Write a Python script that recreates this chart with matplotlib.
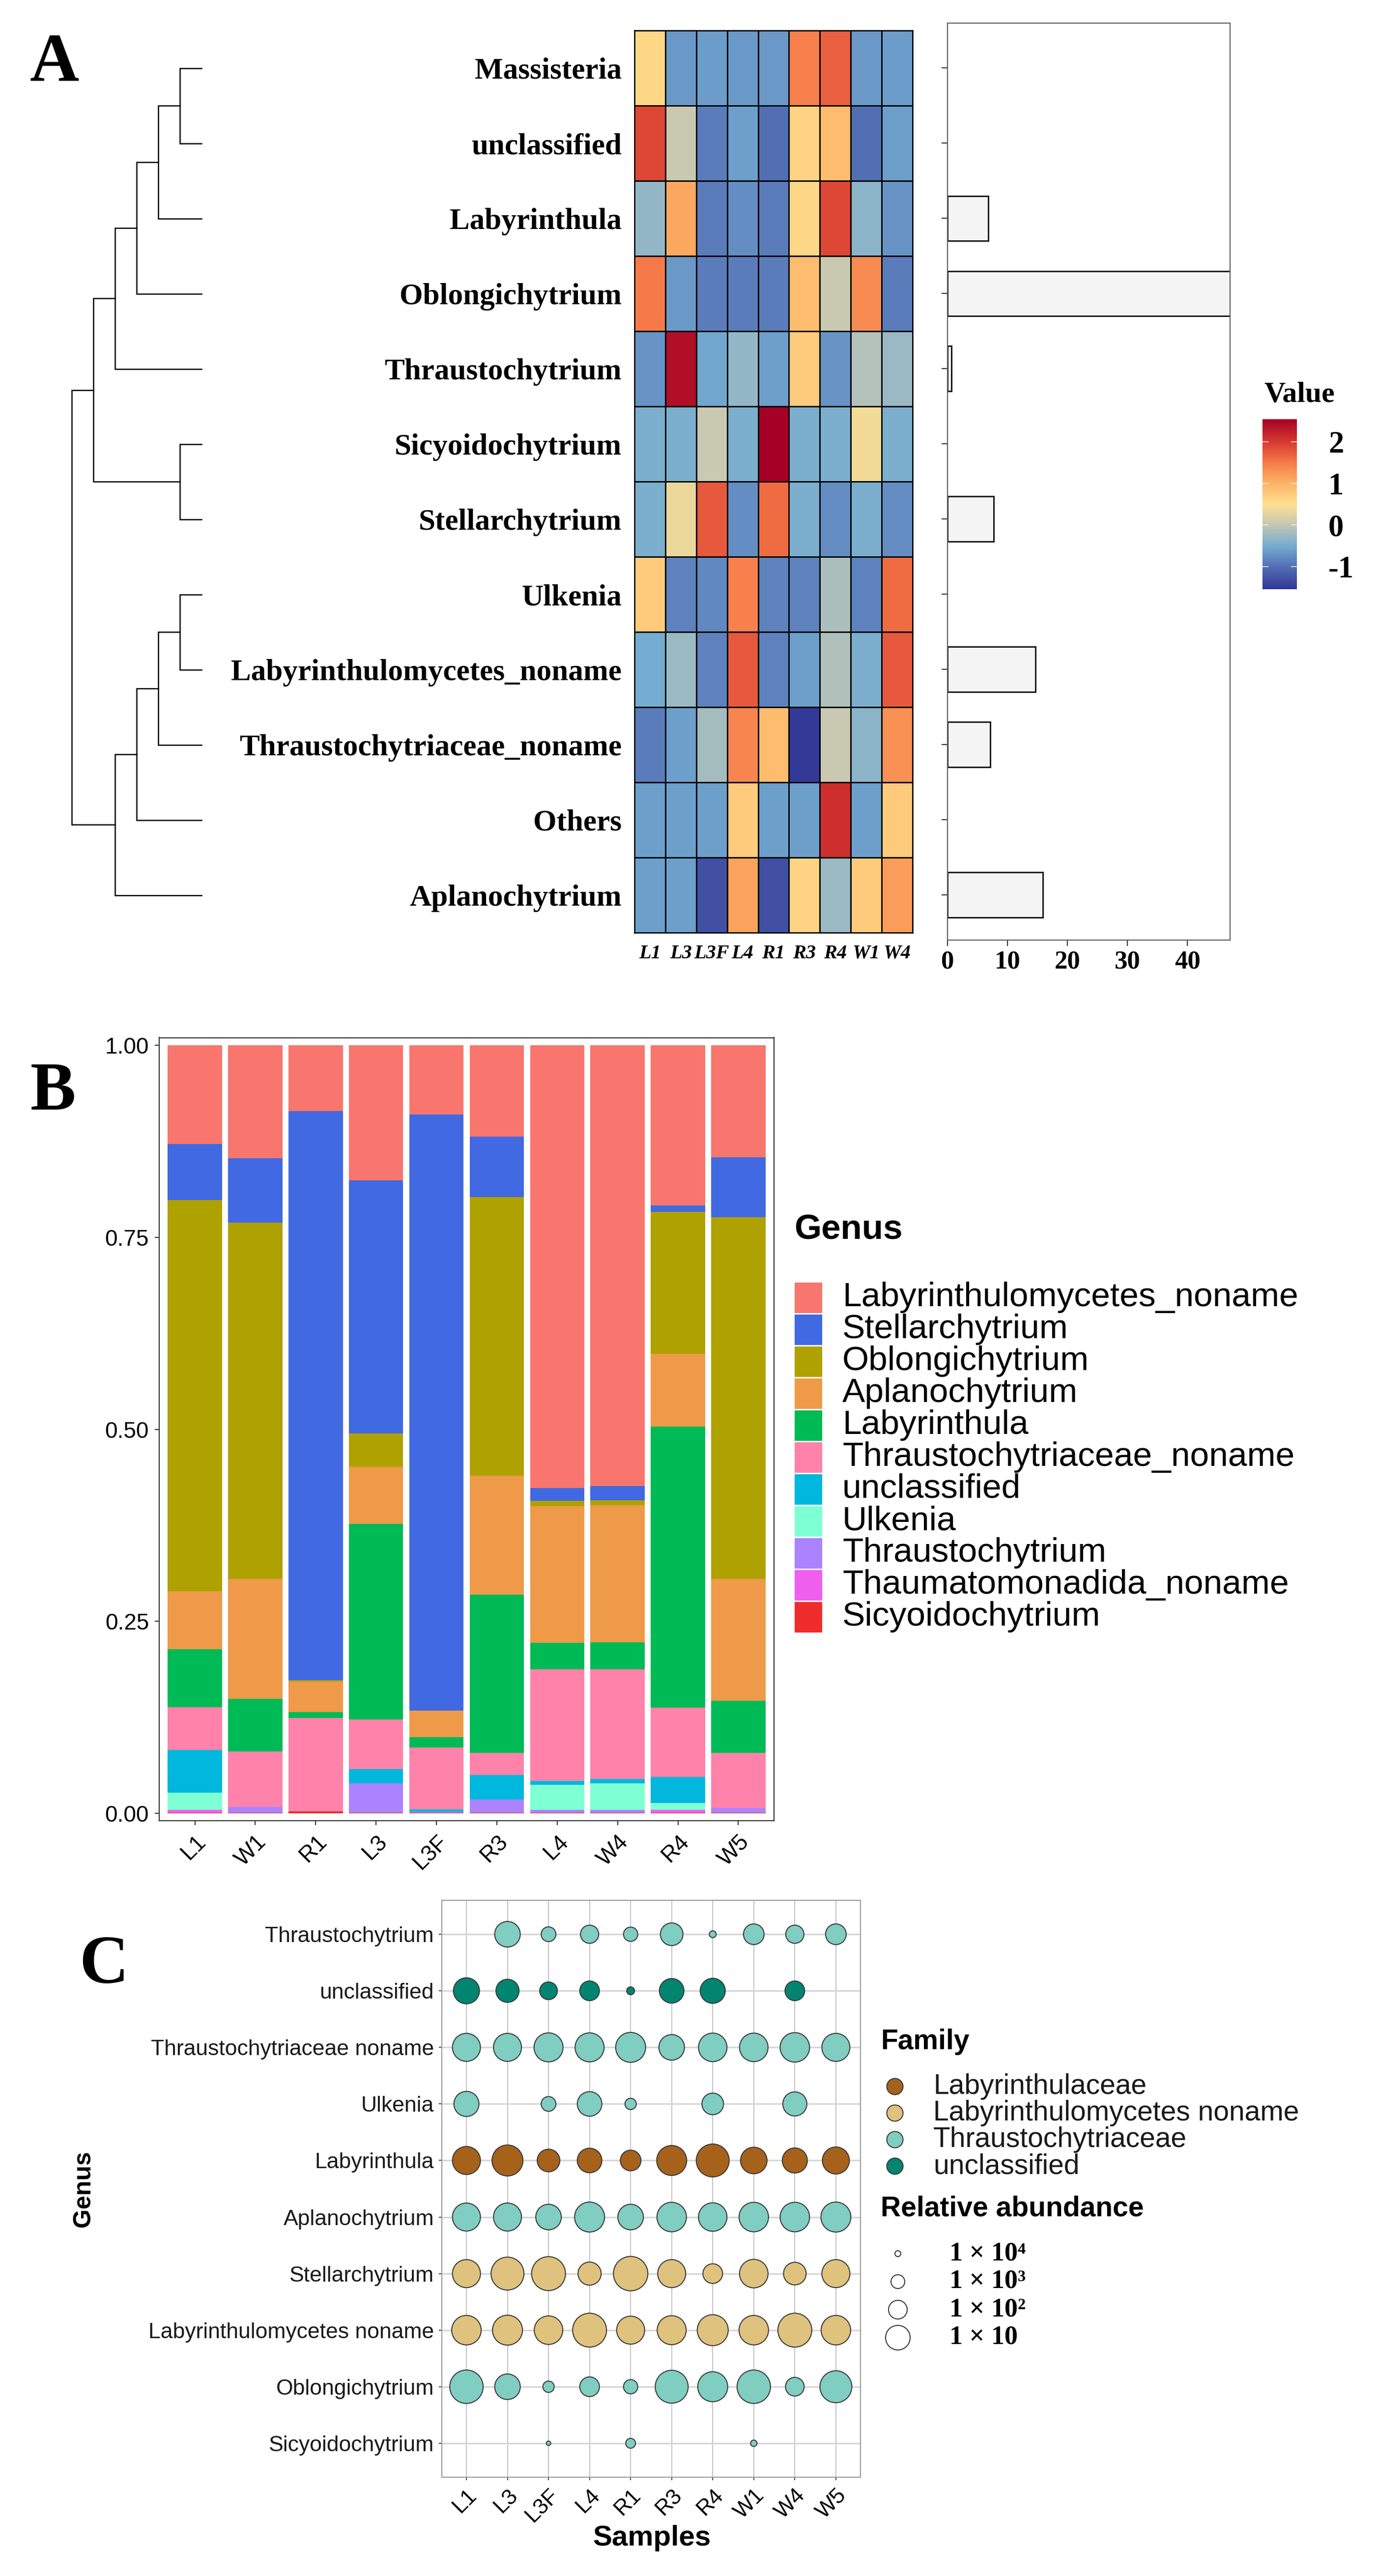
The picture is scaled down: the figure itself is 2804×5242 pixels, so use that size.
import numpy as np
import matplotlib
matplotlib.use('Agg')
import matplotlib.pyplot as plt
from matplotlib.colors import LinearSegmentedColormap, Normalize
from matplotlib.cm import ScalarMappable
from matplotlib.patches import Rectangle

W, H, DPI = 2804, 5242, 100
plt.rcParams['font.family'] = ['Liberation Sans', 'DejaVu Sans']
SERIF = ['Liberation Serif', 'DejaVu Serif']


def box(x0, y0, x1, y1):
    # pixel box, origin top-left -> figure fraction rect
    return [x0 / W, 1 - y1 / H, (x1 - x0) / W, (y1 - y0) / H]


def pt(px):
    return px * 72 / DPI


# ---------------- panel A data ----------------
heat_samples = ['L1', 'L3', 'L3F', 'L4', 'R1', 'R3', 'R4', 'W1', 'W4']
heat_rows = ['Massisteria', 'unclassified', 'Labyrinthula', 'Oblongichytrium',
             'Thraustochytrium', 'Sicyoidochytrium', 'Stellarchytrium', 'Ulkenia',
             'Labyrinthulomycetes_noname', 'Thraustochytriaceae_noname', 'Others',
             'Aplanochytrium']
heat_z = [
    [0.6, -0.65, -0.62, -0.65, -0.65, 1.45, 1.7, -0.65, -0.62],
    [1.9, 0.05, -0.9, -0.6, -1.0, 0.65, 0.9, -1.0, -0.6],
    [-0.3, 1.1, -0.9, -0.75, -0.9, 0.6, 1.9, -0.35, -0.7],
    [1.5, -0.65, -0.9, -0.9, -0.9, 0.9, 0.05, 1.35, -0.9],
    [-0.7, 2.4, -0.55, -0.3, -0.6, 0.75, -0.7, -0.1, -0.25],
    [-0.45, -0.45, 0.05, -0.45, 2.55, -0.45, -0.45, 0.4, -0.45],
    [-0.45, 0.35, 1.75, -0.75, 1.6, -0.45, -0.75, -0.45, -0.75],
    [0.75, -0.85, -0.8, 1.45, -0.85, -0.85, -0.15, -0.85, 1.6],
    [-0.5, -0.25, -0.85, 1.75, -0.85, -0.6, -0.12, -0.45, 1.75],
    [-0.9, -0.6, -0.2, 1.4, 0.9, -1.5, 0.05, -0.35, 1.3],
    [-0.6, -0.6, -0.6, 0.75, -0.6, -0.6, 2.1, -0.6, 0.75],
    [-0.6, -0.6, -1.3, 1.15, -1.3, 0.65, -0.25, 0.75, 1.2],
]
heat_bar = [0, 0, 6.8, 60, 0.65, 0, 7.7, 0, 14.7, 7.1, 0, 15.9]
# clustering of the rows: (merge level, left, right)
genus_tree = (6,
              (5,
               (4, (3, (2, (1, 'Massisteria', 'unclassified'), 'Labyrinthula'),
                    'Oblongichytrium'), 'Thraustochytrium'),
               (1, 'Sicyoidochytrium', 'Stellarchytrium')),
              (4, (3, (2, (1, 'Ulkenia', 'Labyrinthulomycetes_noname'),
                       'Thraustochytriaceae_noname'), 'Others'),
               'Aplanochytrium'))

# ---------------- panel B data ----------------
stack_samples = ['L1', 'W1', 'R1', 'L3', 'L3F', 'R3', 'L4', 'W4', 'R4', 'W5']
stack_genus = ['Labyrinthulomycetes_noname', 'Stellarchytrium', 'Oblongichytrium',
               'Aplanochytrium', 'Labyrinthula', 'Thraustochytriaceae_noname',
               'unclassified', 'Ulkenia', 'Thraustochytrium',
               'Thaumatomonadida_noname', 'Sicyoidochytrium']
stack_colors = ['#F8766D', '#4169E1', '#AFA100', '#EE9A49', '#00BA55', '#FF82AB',
                '#00B7DD', '#7FFFD4', '#AB82FF', '#EE5FEE', '#EE2C2C']
labyrinthulomycetes_noname = [.1284, .1469, .0857, .1757, .0901, .119, .5766, .5739, .2087, .146]
stellarchytrium = [.0732, .0841, .7408, .3297, .776, .0787, .0164, .0185, .008, .0781]
oblongichytrium = [.5091, .464, .0018, .0438, 0, .3627, .0071, .0065, .1852, .4709]
aplanochytrium = [.0752, .1557, .0399, .0738, .0344, .1547, .1777, .1782, .0944, .1586]
labyrinthula = [.0758, .0687, .0073, .2545, .0139, .2063, .0349, .0356, .366, .0678]
thraustochytriaceae_noname = [.0555, .0725, .1216, .065, .0801, .0285, .1449, .1423, .0901, .0716]
unclassified = [.0558, 0, 0, .0184, .0033, .0319, .0055, .0061, .0338, 0]
ulkenia = [.0222, 0, 0, 0, 0, 0, .0325, .0345, .0094, 0]
thraustochytrium = [0, .0071, 0, .0381, .0012, .0172, .0034, .0034, 0, .006]
thaumatomonadida_noname = [.0037, 0, 0, 0, 0, 0, 0, 0, .0034, 0]
sicyoidochytrium = [.001, .001, .0029, .001, .001, .001, .001, .001, .001, .001]
stack_values = [labyrinthulomycetes_noname, stellarchytrium, oblongichytrium,
                aplanochytrium, labyrinthula, thraustochytriaceae_noname,
                unclassified, ulkenia, thraustochytrium, thaumatomonadida_noname,
                sicyoidochytrium]

# ---------------- panel C data ----------------
dot_samples = ['L1', 'L3', 'L3F', 'L4', 'R1', 'R3', 'R4', 'W1', 'W4', 'W5']
dot_genus = ['Thraustochytrium', 'unclassified', 'Thraustochytriaceae noname', 'Ulkenia',
             'Labyrinthula', 'Aplanochytrium', 'Stellarchytrium',
             'Labyrinthulomycetes noname', 'Oblongichytrium', 'Sicyoidochytrium']
dot_family = ['Thraustochytriaceae', 'unclassified', 'Thraustochytriaceae',
              'Thraustochytriaceae', 'Labyrinthulaceae', 'Thraustochytriaceae',
              'Labyrinthulomycetes noname', 'Labyrinthulomycetes noname',
              'Thraustochytriaceae', 'Thraustochytriaceae']
family_names = ['Labyrinthulaceae', 'Labyrinthulomycetes noname',
                'Thraustochytriaceae', 'unclassified']
family_colors = ['#A6611A', '#DFC27D', '#80CDC1', '#018571']
# bubble size (0 = absent)
dot_size = [
    [0, 54, 32, 39, 31, 48, 16, 44, 39, 44],
    [55, 49, 38, 42, 18, 52, 53, 0, 42, 0],
    [59, 59, 61, 61, 63, 54, 60, 60, 62, 59],
    [53, 0, 32, 52, 25, 0, 46, 0, 51, 0],
    [59, 65, 48, 52, 44, 63, 69, 56, 53, 57],
    [59, 59, 54, 63, 54, 62, 60, 62, 62, 63],
    [59, 69, 71, 49, 72, 59, 42, 60, 48, 59],
    [62, 63, 60, 71, 59, 61, 65, 62, 71, 62],
    [70, 54, 25, 42, 31, 69, 63, 70, 40, 67],
    [0, 0, 11, 0, 22, 0, 0, 15, 0, 0],
]
size_labels = ['1 × 10⁴', '1 × 10³', '1 × 10²', '1 × 10']
size_keys = [14, 30, 40, 52]

fig = plt.figure(figsize=(W / DPI, H / DPI), dpi=DPI)

# ======================= A =======================
cmap = LinearSegmentedColormap.from_list('heat', list(zip(
    (np.array([-1.54, -1.0, -0.5, 0.0, 0.5, 1.0, 1.5, 2.0, 2.54]) + 1.54) / 4.08,
    ['#313695', '#5470b5', '#74add1', '#c4c6b4', '#fee090', '#fdb466',
     '#f67a49', '#d73a30', '#a50026'])))
norm = Normalize(-1.54, 2.54)

ax_d = fig.add_axes(box(146, 62, 410, 1898))


def draw_tree(ax, node):
    if isinstance(node, str):
        return 0.0, heat_rows.index(node)
    h = node[0]
    h1, y1 = draw_tree(ax, node[1])
    h2, y2 = draw_tree(ax, node[2])
    ax.plot([h1, h, h, h2], [y1, y1, y2, y2], color='black', lw=1.8,
            solid_joinstyle='miter', clip_on=False)
    return h, (y1 + y2) / 2


draw_tree(ax_d, genus_tree)
ax_d.set_xlim(6, 0)
ax_d.set_ylim(len(heat_rows) - 0.5, -0.5)
ax_d.axis('off')

ax_h = fig.add_axes(box(1291, 62, 1857, 1898))
ax_h.pcolormesh(np.array(heat_z), cmap=cmap, norm=norm, edgecolors='black', linewidth=1.8)
ax_h.set_ylim(len(heat_rows), 0)
ax_h.set_xticks(np.arange(len(heat_samples)) + 0.5)
ax_h.set_xticklabels(heat_samples, family=SERIF, fontweight='bold', style='italic',
                     fontsize=29)
ax_h.set_yticks(np.arange(len(heat_rows)) + 0.5)
ax_h.set_yticklabels(heat_rows, family=SERIF, fontweight='bold', fontsize=44)
ax_h.tick_params(length=0)
ax_h.tick_params(axis='y', pad=pt(26))
ax_h.tick_params(axis='x', pad=pt(24))
for s in ax_h.spines.values():
    s.set_linewidth(1.8)

ax_b = fig.add_axes(box(1928, 46.7, 2503, 1913))
rows_idx = np.arange(len(heat_rows))
nz = np.array(heat_bar) > 0
ax_b.barh(rows_idx[nz], np.array(heat_bar)[nz], height=0.6, color='#f4f4f4',
          edgecolor='#1a1a1a', linewidth=2.2)
ax_b.set_xlim(0, 47.1)
ax_b.set_ylim(11.6, -0.6)
ax_b.set_yticks(rows_idx)
ax_b.set_yticklabels([])
ax_b.set_xticks([0, 10, 20, 30, 40])
ax_b.set_xticklabels(['0', '10', '20', '30', '40'], family=SERIF, fontweight='bold',
                     fontsize=38)
ax_b.tick_params(length=pt(12), width=1.5, color='#333333', pad=pt(8))
for s in ax_b.spines.values():
    s.set_color('#5a5a5a')
    s.set_linewidth(1.5)

cax = fig.add_axes(box(2569, 853, 2639, 1199))
cb = fig.colorbar(ScalarMappable(norm=norm, cmap=cmap), cax=cax, ticks=[-1, 0, 1, 2])
cb.outline.set_visible(False)
cax.yaxis.set_ticks_position('both')
cax.tick_params(axis='y', direction='in', color='#eeeeee', length=pt(12), width=1.2,
                pad=pt(64), labelleft=False, labelright=True)
cax.set_yticklabels(['-1', '0', '1', '2'], family=SERIF, fontweight='bold', fontsize=45)

# ======================= B =======================
ax_s = fig.add_axes(box(324, 2111.5, 1575, 3705))
xpos = np.arange(len(stack_samples))
bottom = np.zeros(len(stack_samples))
for vals, col in zip(stack_values[::-1], stack_colors[::-1]):
    ax_s.bar(xpos, vals, bottom=bottom, width=0.9, color=col, linewidth=0)
    bottom += np.array(vals)
ax_s.set_xlim(-0.59, 9.59)
ax_s.set_ylim(-0.0095, 1.0099)
ax_s.set_yticks([0, 0.25, 0.5, 0.75, 1.0])
ax_s.set_yticklabels(['0.00', '0.25', '0.50', '0.75', '1.00'], fontsize=33)
ax_s.set_xticks(xpos)
ax_s.set_xticklabels(stack_samples, fontsize=33, rotation=45, ha='right', va='top',
                     rotation_mode='anchor')
ax_s.tick_params(length=pt(9), width=1.5, color='#333333', pad=pt(12))
for s in ax_s.spines.values():
    s.set_color('#333333')
    s.set_linewidth(1.6)

# ======================= C =======================
ax_c = fig.add_axes(box(899, 3867, 1751, 5041))
fam_col = dict(zip(family_names, family_colors))
for i, g in enumerate(dot_genus):
    d = np.array(dot_size[i], dtype=float)
    m = d > 0
    ax_c.scatter(np.arange(len(dot_samples))[m], np.full(m.sum(), i),
                 s=pt(d[m] - 2) ** 2, color=fam_col[dot_family[i]],
                 edgecolor='#3a3a3a', linewidth=1.5, zorder=3)
ax_c.set_xlim(-0.6, 9.6)
ax_c.set_ylim(9.6, -0.6)
ax_c.set_xticks(np.arange(len(dot_samples)))
ax_c.set_xticklabels(dot_samples, fontsize=32, rotation=45, ha='right', va='top',
                     rotation_mode='anchor')
ax_c.set_yticks(np.arange(len(dot_genus)))
ax_c.set_yticklabels(dot_genus, fontsize=32, color='#1a1a1a')
ax_c.tick_params(length=pt(6), width=1.4, color='#444444', pad=pt(10))
ax_c.grid(axis='y', color='#d6d6d6', linewidth=2.4, zorder=0)
ax_c.grid(axis='x', color='#c2c2c2', linewidth=1.4, zorder=0)
ax_c.set_axisbelow(True)
for s in ax_c.spines.values():
    s.set_color('#9a9a9a')
    s.set_linewidth(1.5)

# ============ overlay: panel letters, titles, legends ============
ov = fig.add_axes([0, 0, 1, 1])
ov.set_xlim(0, W)
ov.set_ylim(H, 0)
ov.axis('off')
ov.patch.set_alpha(0)

for letter, (lx, ly) in zip('ABC', [(61, 165), (62, 2258), (161, 4035)]):
    ov.text(lx, ly, letter, family=SERIF, fontweight='bold', fontsize=100,
            va='baseline', ha='left')

ov.text(2572, 818, 'Value', family=SERIF, fontweight='bold', fontsize=43, va='baseline')

# genus legend of B
ov.text(1616, 2522, 'Genus', fontweight='bold', fontsize=51, va='baseline')
for i, (g, col) in enumerate(zip(stack_genus, stack_colors)):
    y0 = 2608 + i * 65
    ov.add_patch(Rectangle((1617, y0 + 1.5), 56, 62, color=col, lw=0))
    ov.text(1714, y0 + 32, g, fontsize=50, va='center', ha='left')

# legends of C
ov.text(1792, 4170, 'Family', fontweight='bold', fontsize=41, va='baseline')
fam_y = 4246 + np.arange(len(family_names)) * 54
ov.scatter(np.full(len(family_names), 1821), fam_y, s=pt(33) ** 2, c=family_colors,
           edgecolor='#3a3a3a', linewidth=1.5)
for yy, name in zip(fam_y, family_names):
    ov.text(1899, yy, name, fontsize=41, va='center', ha='left', color='#1a1a1a')

ov.text(1792, 4509, 'Relative abundance', fontweight='bold', fontsize=41, va='baseline')
size_y = 4586 + np.arange(len(size_labels)) * 57
ov.scatter(np.full(len(size_labels), 1827), size_y, s=pt(np.array(size_keys) - 2) ** 2,
           facecolor='white', edgecolor='#3a3a3a', linewidth=1.5)
for yy, lab in zip(size_y, size_labels):
    ov.text(1932, yy, lab, family=SERIF, fontweight='bold', fontsize=39, va='center',
            ha='left')

ov.text(1326, 5165, 'Samples', fontweight='bold', fontsize=42, ha='center', va='center')
ov.text(170, 4454, 'Genus', fontweight='bold', fontsize=36, rotation=90, ha='center',
        va='center')

fig.savefig('out.png', dpi=DPI)
